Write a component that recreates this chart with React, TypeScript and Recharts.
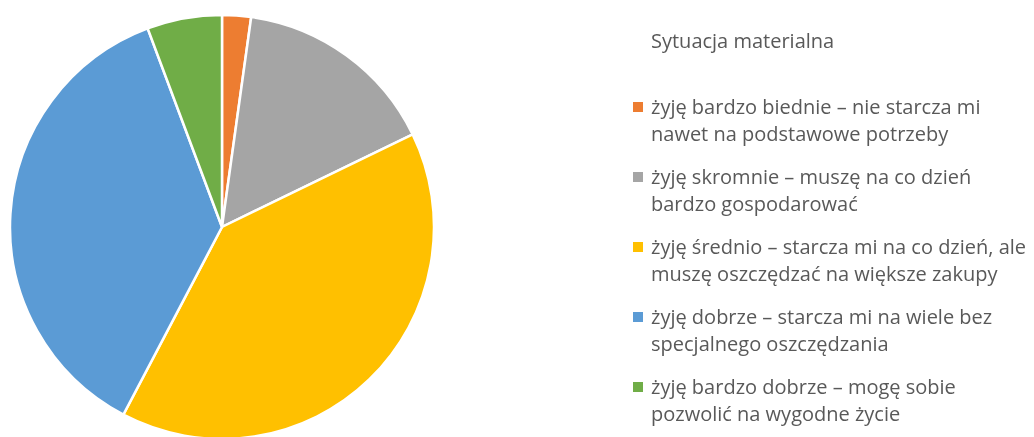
import { PieChart, Pie, Cell, Legend } from "recharts";

const TITLE = "Sytuacja materialna";
const CATEGORIES: string[][] = [
  ["żyję bardzo biednie – nie starcza mi", "nawet na podstawowe potrzeby"],
  ["żyję skromnie – muszę na co dzień", "bardzo gospodarować"],
  ["żyję średnio – starcza mi na co dzień, ale", "muszę oszczędzać na większe zakupy"],
  ["żyję dobrze – starcza mi na wiele bez", "specjalnego oszczędzania"],
  ["żyję bardzo dobrze – mogę sobie", "pozwolić na wygodne życie"],
];
const VALUES = [2.2, 15.6, 39.9, 36.6, 5.7];
const COLORS = ["#ED7D31", "#A5A5A5", "#FFC000", "#5B9BD5", "#70AD47"];

const data = CATEGORIES.map((lines, i) => ({ name: lines.join(" "), lines, value: VALUES[i] }));

const FONT = "'Open Sans', Lato, sans-serif";

function LegendBox() {
  return (
    <div style={{ fontFamily: FONT, color: "#595959", fontSize: 20 }}>
      <div style={{ paddingLeft: 31, height: 40, lineHeight: "40px" }}>{TITLE}</div>
      <div style={{ height: 32 }} />
      {data.map((d, i) => (
        <div key={d.name} style={{ position: "relative", paddingLeft: 31, height: 70, lineHeight: "27px" }}>
          <span style={{ position: "absolute", left: 13, top: 9, width: 10, height: 10, background: COLORS[i] }} />
          {d.lines.map((l) => (
            <div key={l} style={{ whiteSpace: "nowrap" }}>{l}</div>
          ))}
        </div>
      ))}
    </div>
  );
}

export default function App() {
  return (
    <div style={{ position: "fixed", left: 0, top: 0, width: 1034, height: 437, background: "#fff" }}>
      <PieChart width={1034} height={437} margin={{ top: 0, right: 0, bottom: 0, left: 0 }}>
        <Pie
          data={data}
          dataKey="value"
          nameKey="name"
          cx={222}
          cy={227}
          outerRadius={212}
          startAngle={90}
          endAngle={-270}
          stroke="#ffffff"
          strokeWidth={2.5}
          isAnimationActive={false}
        >
          {data.map((d, i) => (
            <Cell key={d.name} fill={COLORS[i]} />
          ))}
        </Pie>
        <Legend
          content={() => <LegendBox />}
          wrapperStyle={{ position: "absolute", left: 620, top: 21, width: 414 }}
        />
      </PieChart>
    </div>
  );
}
